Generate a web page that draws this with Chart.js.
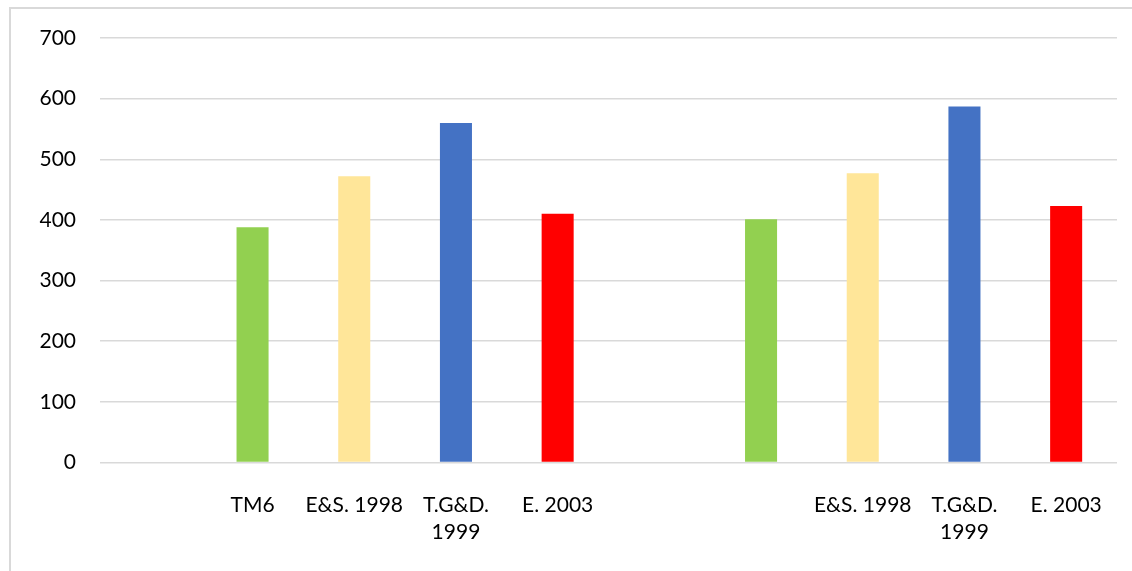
<!DOCTYPE html>
<html>
<head>
<meta charset="utf-8">
<script src="https://cdn.jsdelivr.net/npm/chart.js@4"></script>
<style>
    html, body { margin: 0; padding: 0; background: #fff; overflow: hidden; }
    #wrap { position: relative; width: 1132px; height: 571px; }
    #frame {
        position: absolute; left: 9px; top: 7px; right: -10px; bottom: -10px;
        border-left: 2px solid #d9d9d9; border-top: 2px solid #d9d9d9;
        pointer-events: none;
    }
</style>
</head>
<body>
<div id="wrap">
    <canvas id="chart" width="1132" height="571"></canvas>
    <div id="frame"></div>
</div>
<script>
// Категории (пустые ячейки как в исходной таблице)
const categories = ["", "TM6", "E&S. 1998", ["T.G&D.", "1999"], "E. 2003",
    "", "", "E&S. 1998", ["T.G&D.", "1999"], "E. 2003"];
const values = [null, 388, 472, 560, 410, null, 401, 477, 587, 423];
const barColors = ["#92d050", "#92d050", "#ffe699", "#4472c4", "#ff0000",
    "#92d050", "#92d050", "#ffe699", "#4472c4", "#ff0000"];
const yTicks = [0, 100, 200, 300, 400, 500, 600, 700];

const font = { family: "Lato, 'Open Sans', sans-serif", size: 21, lineHeight: 1.29 };

new Chart(document.getElementById("chart").getContext("2d"), {
    type: "bar",
    data: {
        labels: categories,
        datasets: [
            {
                data: values,
                backgroundColor: barColors,
                borderWidth: 0,
                categoryPercentage: 1,
                barPercentage: 0.315,
            },
        ],
    },
    options: {
        responsive: false,
        animation: false,
        layout: { padding: { top: 38, right: 15, bottom: 0, left: 0 } },
        plugins: { legend: { display: false }, tooltip: { enabled: false } },
        scales: {
            x: {
                grid: { display: false, drawTicks: false },
                border: { display: false },
                ticks: { color: "#000", font: font, padding: 29, maxRotation: 0, autoSkip: false },
                afterFit: (s) => { s.height = 108.5; },
            },
            y: {
                min: 0,
                max: 700,
                afterBuildTicks: (s) => { s.ticks = yTicks.map((v) => ({ value: v })); },
                grid: { color: "#d9d9d9", lineWidth: 1.5, drawTicks: false },
                border: { display: false },
                ticks: { color: "#000", font: font, padding: 24 },
                afterFit: (s) => { s.width = 100; },
            },
        },
    },
});
</script>
</body>
</html>
